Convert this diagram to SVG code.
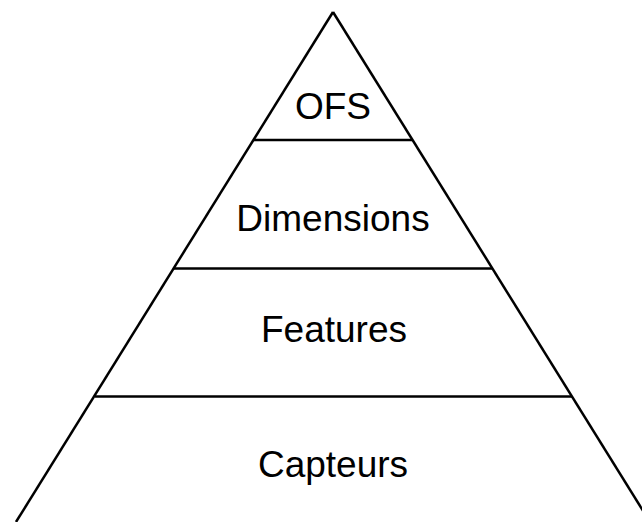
<svg xmlns="http://www.w3.org/2000/svg" width="642" height="522" viewBox="0 0 642 522">
<style>
.ln{stroke:#000;stroke-width:2.5;fill:none;stroke-linecap:butt}
.t{font-family:"Liberation Sans",Arial,sans-serif;font-size:37px;fill:#000;text-anchor:middle}
</style>
<rect width="642" height="522" fill="#fff"/>
<g id="connectors">
<line class="ln" x1="333" y1="12" x2="16" y2="522"/>
<line class="ln" x1="333" y1="12" x2="650" y2="522"/>
<line class="ln" x1="253" y1="140" x2="412" y2="140"/>
<line class="ln" x1="174" y1="268.5" x2="492" y2="268.5"/>
<line class="ln" x1="95" y1="396.5" x2="572" y2="396.5"/>
</g>
<g id="ofs"><text class="t" x="333" y="119">OFS</text></g>
<g id="dimensions"><text class="t" x="333" y="230.5">Dimensions</text></g>
<g id="features"><text class="t" x="334" y="342">Features</text></g>
<g id="capteurs"><text class="t" x="333" y="476.5">Capteurs</text></g>
</svg>
